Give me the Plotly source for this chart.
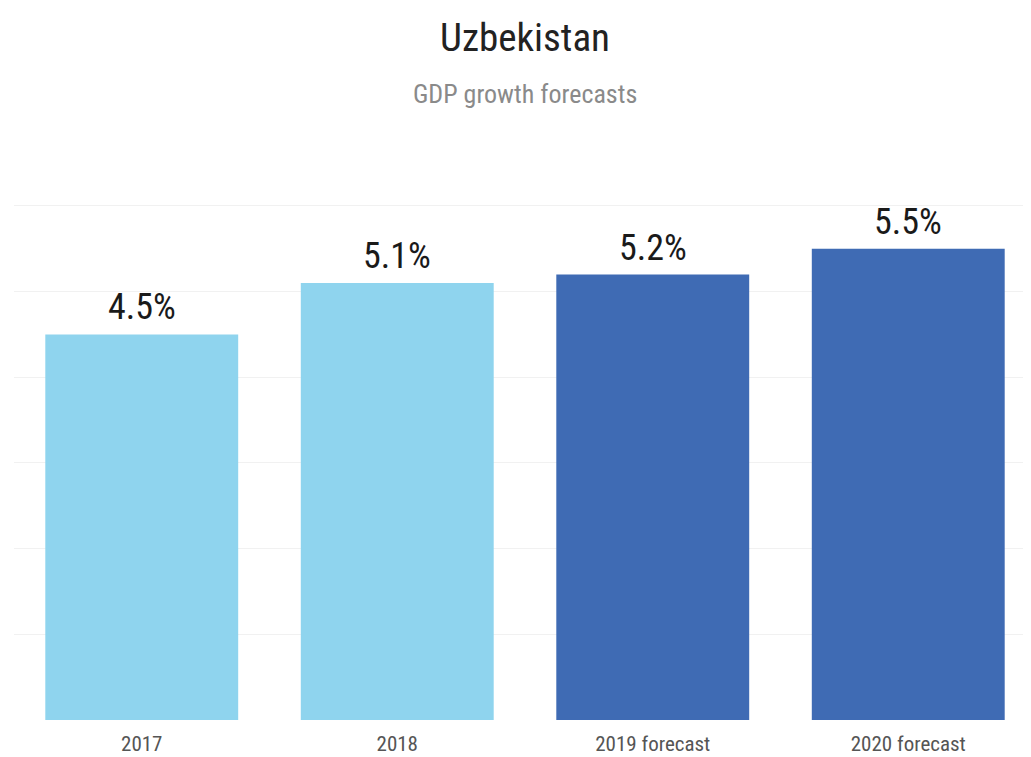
import plotly.graph_objects as go

categories = ["2017", "2018", "2019 forecast", "2020 forecast"]
values = [4.5, 5.1, 5.2, 5.5]
labels = ["4.5%", "5.1%", "5.2%", "5.5%"]
colors = ["#8fd4ee", "#8fd4ee", "#3f6bb4", "#3f6bb4"]

FONT = "Roboto Condensed, Liberation Sans Narrow, Arial Narrow, Liberation Sans, sans-serif"

W, H = 1031, 757
T, B = 162, 45

xs = list(range(len(categories)))
fig = go.Figure(go.Bar(
    x=xs,
    y=values,
    marker=dict(color=colors, line=dict(width=0)),
    width=0.755,
))

for x, v, lab in zip(xs, values, labels):
    fig.add_annotation(
        x=x, y=v, text=lab, showarrow=False, yanchor="bottom", yshift=4,
        font=dict(family=FONT, size=36, color="#1a1a1a"),
    )

fig.update_layout(
    width=W, height=H,
    margin=dict(l=6, r=3, t=T, b=B),
    paper_bgcolor="white", plot_bgcolor="white",
    showlegend=False,
    xaxis=dict(
        tickmode="array", tickvals=xs, ticktext=categories,
        range=[-0.5, 3.5], showgrid=False, zeroline=False, showline=False,
        tickfont=dict(family=FONT, size=21, color="#555555"), ticks="",
        ticklabelstandoff=9,
    ),
    yaxis=dict(
        range=[0, 6.42], dtick=1, showticklabels=False, showgrid=True,
        gridcolor="#f1f1f1", gridwidth=1, zeroline=False, showline=False,
    ),
)

titles = [("Uzbekistan", 30, 39, "#222222"), ("GDP growth forecasts", 86, 26, "#8a8a8a")]
for text, ypix, size, color in titles:
    fig.add_annotation(
        text=text, x=0.5, y=1 + (T - ypix) / (H - T - B), xref="paper", yref="paper",
        yanchor="middle", showarrow=False, font=dict(family=FONT, size=size, color=color),
    )

fig.write_html("out.html")
